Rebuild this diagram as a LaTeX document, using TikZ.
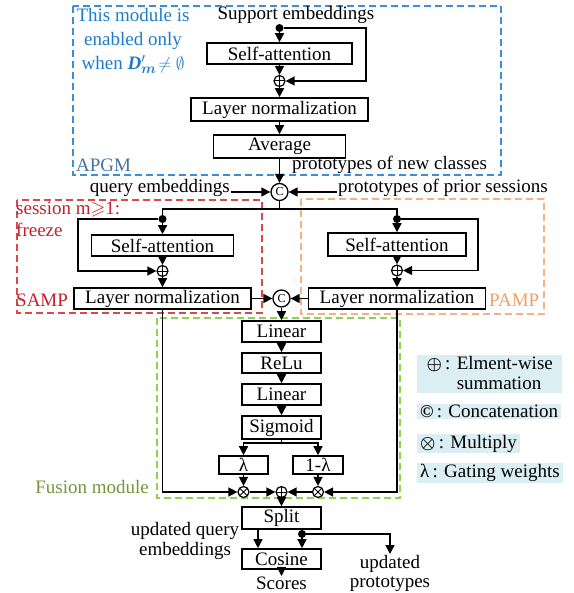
\documentclass[tikz,border=0pt]{standalone}
\usepackage{amsmath,amssymb}
\usepackage{fontspec}
\setmainfont{Liberation Serif}
\usetikzlibrary{arrows.meta,calc}
\definecolor{apgmline}{HTML}{3A8FD9}
\definecolor{apgmtext}{HTML}{1F7BC9}
\definecolor{apgmlabel}{HTML}{45729F}
\definecolor{sampline}{HTML}{D84A4A}
\definecolor{samptext}{HTML}{C3202A}
\definecolor{pampline}{HTML}{F4B183}
\definecolor{pamptext}{HTML}{EFA066}
\definecolor{fusline}{HTML}{92D050}
\definecolor{fustext}{HTML}{77933C}
\definecolor{legfill}{HTML}{DAEEF3}
\begin{document}
\begin{tikzpicture}[x=1pt,y=-1pt,
  font=\fontsize{19}{23}\selectfont,
  conn/.style={line width=1.4pt},
  arr/.style={line width=1.4pt,-{Triangle[length=9pt,width=9pt]}},
  blk/.style={draw,line width=1.6pt,inner sep=0pt},
  sumnode/.style={circle,draw,line width=1.2pt,minimum size=11pt,inner sep=0pt,
    path picture={\draw[line width=1pt] (path picture bounding box.north) -- (path picture bounding box.south)
      (path picture bounding box.west) -- (path picture bounding box.east);}},
  mulnode/.style={circle,draw,line width=1.2pt,minimum size=11pt,inner sep=0pt,
    path picture={\draw[line width=1pt] (path picture bounding box.north west) -- (path picture bounding box.south east)
      (path picture bounding box.south west) -- (path picture bounding box.north east);}},
  catnode/.style={circle,draw,line width=1.3pt,minimum size=17pt,inner sep=0pt,font=\fontsize{12}{12}\selectfont},
  dotmark/.style={circle,fill,inner sep=0pt,minimum size=8pt},
  lbl/.style={inner sep=1pt},
  region/.style={dashed,line width=1.2pt,dash pattern=on 7pt off 4pt},
  legend/.style={fill=legfill,anchor=north west,inner xsep=3pt,inner ysep=1pt,align=left,font=\fontsize{19}{20}\selectfont}
]
\useasboundingbox (0,0) rectangle (573,593);

% region boxes
\draw[region,apgmline] (73,6) rectangle (501,175);
\draw[region,sampline] (17,200) rectangle (262,313);
\draw[region,pampline] (301,199) rectangle (544,314);
\draw[region,fusline] (157,318) rectangle (400,498);

% region labels
\node[lbl,apgmtext,align=center,font=\fontsize{19}{24}\selectfont] (note) at (133,41)
  {This module is\\enabled only\\when {\bfseries\itshape D}$^{\prime}_{\boldsymbol{m}}\!\neq\emptyset$};
\node[lbl,apgmlabel,anchor=west] (apgmlab) at (75,165) {APGM};
\node[lbl,samptext,anchor=north west,align=left,font=\fontsize{19}{22}\selectfont] (sess) at (15,201) {session m$\geqslant$1:\\freeze};
\node[lbl,samptext,anchor=west] (samplab) at (15,300) {SAMP};
\node[lbl,pamptext,anchor=west] (pamplab) at (488,300) {PAMP};
\node[lbl,fustext,anchor=east] (fuslab) at (150,487) {Fusion module};

% APGM
\node[lbl] (se) at (296,15) {Support embeddings};
\coordinate (sestart) at (279.5,24);
\node[dotmark] (adot) at (279.5,28) {};
\node[blk,minimum width=145pt,minimum height=21pt] (asa) at (279.5,53.5) {Self-attention};
\node[sumnode] (aplus) at (279.5,81) {};
\node[blk,minimum width=177pt,minimum height=23pt] (aln) at (279.5,109.5) {Layer normalization};
\node[blk,minimum width=132pt,minimum height=23pt] (avg) at (279.5,146.5) {Average};
\coordinate (aloop) at (366,81);
\draw[conn] (sestart) -- (adot);
\draw[arr] (adot) -- (asa);
\draw[arr] (adot) -| (aloop) -- (aplus);
\draw[arr] (asa) -- (aplus);
\draw[arr] (aplus) -- (aln);
\draw[arr] (aln) -- (avg);
\node[lbl,anchor=west] (pnc) at (291,165) {prototypes of new classes};

% top concat
\node[catnode] (c1) at (279.5,192) {C};
\node[lbl,anchor=east] (qe) at (231,188) {query embeddings};
\node[lbl,anchor=west] (pps) at (337,188) {prototypes of prior sessions};
\draw[arr] (avg) -- (c1);
\draw[arr] (qe.east |- c1) -- (c1);
\draw[arr] (pps.west |- c1) -- (c1);
\coordinate (split1) at (279.5,209);
\draw[conn] (c1) -- (split1);

% SAMP
\node[dotmark] (sdot) at (162.5,219) {};
\node[blk,minimum width=142pt,minimum height=21pt] (ssa) at (162.5,245.5) {Self-attention};
\node[sumnode] (splus) at (162.5,271) {};
\node[blk,minimum width=177pt,minimum height=21pt] (sln) at (162.5,298.5) {Layer normalization};
\coordinate (sloop) at (78,271);
\draw[conn] (split1) -| (sdot);
\draw[arr] (sdot) -- (ssa);
\draw[arr] (sdot) -| (sloop) -- (splus);
\draw[arr] (ssa) -- (splus);
\draw[arr] (splus) -- (sln);

% PAMP
\node[dotmark] (pdot) at (397,219) {};
\node[blk,minimum width=138pt,minimum height=23pt] (psa) at (397,244.5) {Self-attention};
\node[sumnode] (pplus) at (397,270.5) {};
\node[blk,minimum width=177pt,minimum height=21pt] (pln) at (397,298.5) {Layer normalization};
\coordinate (ploop) at (478,270.5);
\draw[conn] (split1) -| (pdot);
\draw[arr] (pdot) -- (psa);
\draw[arr] (pdot) -| (ploop) -- (pplus);
\draw[arr] (psa) -- (pplus);
\draw[arr] (pplus) -- (pln);

% middle concat + fusion
\node[catnode] (c2) at (281.5,298.5) {C};
\draw[arr] (sln) -- (c2);
\draw[arr] (pln) -- (c2);
\node[blk,minimum width=79pt,minimum height=21pt] (lin1) at (281.5,331.5) {Linear};
\node[blk,minimum width=79pt,minimum height=20pt] (relu) at (281.5,363) {ReLu};
\node[blk,minimum width=79pt,minimum height=21pt] (lin2) at (281.5,394.5) {Linear};
\node[blk,minimum width=79pt,minimum height=23pt] (sig) at (281.5,427.5) {Sigmoid};
\node[blk,minimum width=49pt,minimum height=18pt] (lam) at (243.5,465) {λ};
\node[blk,minimum width=50pt,minimum height=18pt] (oml) at (318,465) {1-λ};
\node[mulnode] (mulL) at (243.5,492) {};
\node[sumnode] (plusB) at (281.5,492) {};
\node[mulnode] (mulR) at (318,492) {};
\draw[arr] (c2) -- (lin1);
\draw[arr] (lin1) -- (relu);
\draw[arr] (relu) -- (lin2);
\draw[arr] (lin2) -- (sig);
\coordinate (gsplit) at (281.5,443);
\draw[conn] (sig) -- (gsplit);
\draw[arr] (gsplit) -| (lam);
\draw[arr] (gsplit) -| (oml);
\draw[arr] (lam) -- (mulL);
\draw[arr] (oml) -- (mulR);
\draw[arr] (sln) |- (mulL);
\draw[arr] (pln) |- (mulR);
\draw[arr] (mulL) -- (plusB);
\draw[arr] (mulR) -- (plusB);

% output
\node[blk,minimum width=79pt,minimum height=22pt] (split) at (281.5,518) {Split};
\node[blk,minimum width=79pt,minimum height=20pt] (cos) at (281.5,559) {Cosine};
\draw[arr] (plusB) -- (split);
\draw[arr] ([xshift=-23.5pt]split.south) -- ([xshift=-23.5pt]cos.north);
\node[dotmark] (bdot) at (302,534) {};
\draw[conn] (bdot |- split.south) -- (bdot);
\draw[arr] (bdot) -- (bdot |- cos.north);
\node[lbl,anchor=north,align=center,font=\fontsize{19}{19}\selectfont] (uprot) at (390,554) {updated\\prototypes};
\draw[arr] (bdot) -| (uprot);
\node[lbl,align=center,font=\fontsize{19}{20}\selectfont] (uqe) at (185,541) {updated query\\embeddings};
\node[lbl,anchor=north] (scores) at (281.5,576) {Scores};
\draw[arr] (cos) -- (scores);

% legend
\node[legend,minimum width=145pt] (leg1) at (417,355) {{\fontsize{17}{17}\selectfont$\boldsymbol{\oplus}$}\,: Elment-wise\\\phantom{{\fontsize{17}{17}\selectfont$\boldsymbol{\oplus}$}\,: }summation};
\node[legend] (leg2) at (417,404) {{\fontsize{18}{18}\selectfont\bfseries ©}\,: Concatenation};
\node[legend] (leg3) at (417,434) {{\fontsize{17}{17}\selectfont$\boldsymbol{\otimes}$}\,: Multiply};
\node[legend] (leg4) at (417,463) {λ\,: Gating weights};
\end{tikzpicture}
\end{document}
